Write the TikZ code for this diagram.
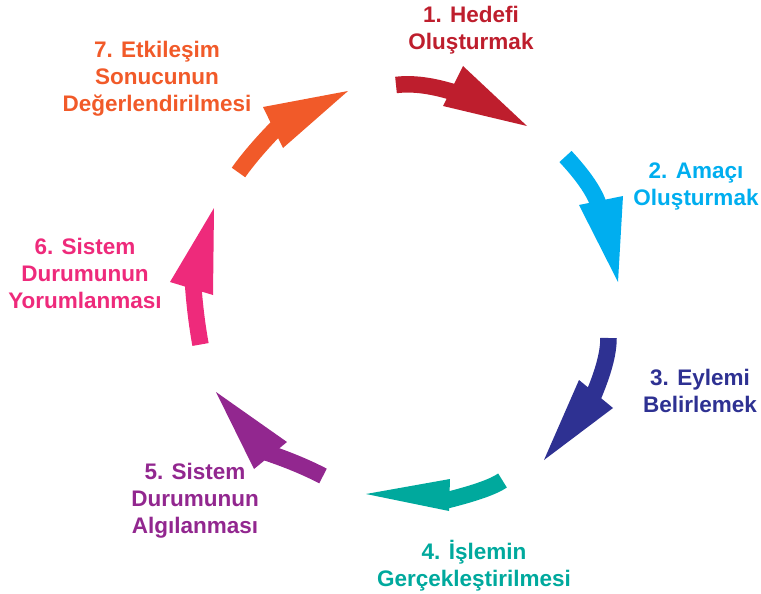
\documentclass[tikz,border=0pt]{standalone}
\usepackage{fontspec}
\setmainfont{Liberation Sans}
\definecolor{cA}{HTML}{BE1E2D}
\definecolor{cB}{HTML}{00AEEF}
\definecolor{cC}{HTML}{2E3192}
\definecolor{cD}{HTML}{00A99D}
\definecolor{cE}{HTML}{92278F}
\definecolor{cF}{HTML}{EE2A7B}
\definecolor{cG}{HTML}{F15A29}
\tikzset{
  shaft/.style={line width=16.5pt},
  lbl/.style={font=\bfseries\fontsize{22.5}{27}\selectfont, align=center, inner sep=0pt}
}
\begin{document}
\begin{tikzpicture}[x=1pt,y=-1pt]
\useasboundingbox (0,0) rectangle (761,594);
% arrow 1
\draw[shaft,cA] (396,85) .. controls (412.7,83) and (431.7,85.3) .. (456,93);
\fill[cA] (463,66) -- (527,126) -- (443,106) -- cycle;
% arrow 2
\draw[shaft,cB] (565.5,156.5) .. controls (583.8,176.2) and (595,192.7) .. (599,206);
\fill[cB] (579,205) -- (618,282) -- (623,196) -- cycle;
% arrow 3
\draw[shaft,cC] (608.5,338) .. controls (608.5,353) and (603.7,371.7) .. (592,399);
\fill[cC] (579,380) -- (544,460) -- (613,408) -- cycle;
% arrow 4
\draw[shaft,cD] (502.5,480.5) .. controls (494,486.4) and (476.5,492.9) .. (444,501);
\fill[cD] (450,479) -- (366,494) -- (449,511) -- cycle;
% arrow 5
\draw[shaft,cE] (323,476) .. controls (306.3,467.3) and (287,459.3) .. (265,452);
\fill[cE] (287,442) -- (216,392) -- (254,469) -- cycle;
% arrow 6
\draw[shaft,cF] (200.5,344.5) .. controls (197,325) and (194.5,305) .. (193,283);
\fill[cF] (170,282) -- (214,208) -- (213,295) -- cycle;
% arrow 7
\draw[shaft,cG] (238.5,172.5) .. controls (247.4,159.7) and (263,141.5) .. (278.5,126);
\fill[cG] (263,107) -- (348,91) -- (283,148) -- cycle;
% labels
\node[lbl,text=cA] (t1) at (471,30) {1. Hedefi\\Oluşturmak};
\node[lbl,text=cB] (t2) at (696,186) {2. Amaçı\\Oluşturmak};
\node[lbl,text=cC] (t3) at (700,391) {3. Eylemi\\Belirlemek};
\node[lbl,text=cD] (t4) at (474,566) {4. İşlemin\\Gerçekleştirilmesi};
\node[lbl,text=cE] (t5) at (195,501) {5. Sistem\\Durumunun\\Algılanması};
\node[lbl,text=cF] (t6) at (85,273) {6. Sistem\\Durumunun\\Yorumlanması};
\node[lbl,text=cG] (t7) at (157,79) {7. Etkileşim\\Sonucunun\\Değerlendirilmesi};
\end{tikzpicture}
\end{document}
